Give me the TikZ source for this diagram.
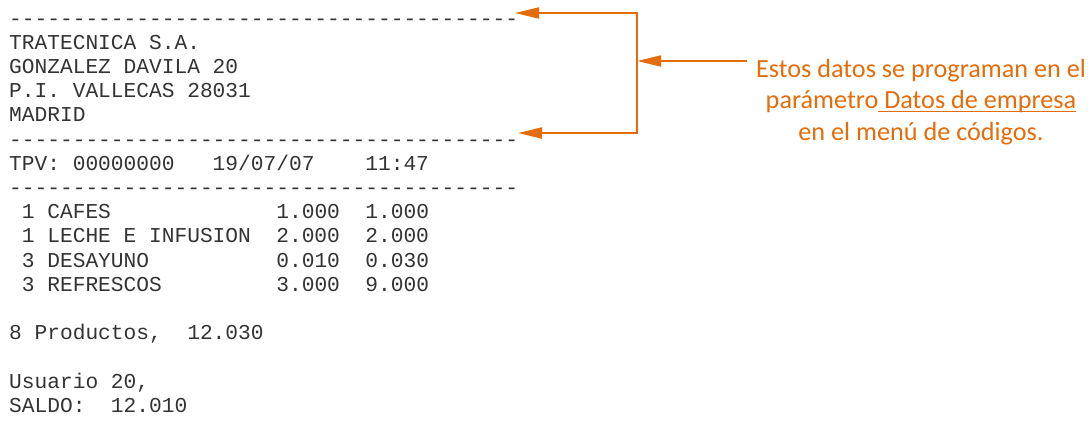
\documentclass[tikz,border=0pt]{standalone}
\usepackage{fontspec}
\setmonofont{Liberation Mono}
\newfontfamily\notefont{Carlito}
\usetikzlibrary{arrows.meta}
\definecolor{noteorange}{RGB}{228,108,10}
\newcommand\dashrow{----------------------------------------}
\newsavebox\ulbox
\newcommand\noteul[1]{\sbox\ulbox{#1}\rlap{\rule[-3.7pt]{\wd\ulbox}{1.4pt}}\usebox\ulbox}
\tikzset{
  ticketline/.style={anchor=base west,inner sep=0pt,text=black!80,
    font=\ttfamily\fontsize{21.2}{24.2}\selectfont},
  noteline/.style={anchor=base,inner sep=0pt,text=noteorange,
    font=\notefont\fontsize{26.2}{31.5}\selectfont},
  pointer/.style={draw=noteorange,line width=2pt},
  >={Triangle[length=24pt,width=11pt]}
}
\begin{document}
\begin{tikzpicture}[x=1pt,y=-1pt]
  \useasboundingbox (0,0) rectangle (1092,429);
  \pgfmathsetmacro\rowh{24.2}
  \foreach \n/\t in {0/\dashrow, 1/{TRATECNICA S.A.}, 2/{GONZALEZ DAVILA 20},
      3/{P.I. VALLECAS 28031}, 4/{MADRID}, 5/\dashrow,
      6/{TPV: 00000000~~~19/07/07~~~~11:47}, 7/\dashrow,
      8/{~1 CAFES~~~~~~~~~~~~~1.000~~1.000},
      9/{~1 LECHE E INFUSION~~2.000~~2.000},
      10/{~3 DESAYUNO~~~~~~~~~~0.010~~0.030},
      11/{~3 REFRESCOS~~~~~~~~~3.000~~9.000},
      13/{8 Productos,~~12.030}, 15/{Usuario 20,}, 16/{SALDO:~~12.010}} {
    \node[ticketline] (row\n) at (9,25+\n*\rowh) {\t};
  }
  \node[noteline] (note1) at (921,77) {Estos datos se programan en el};
  \node[noteline] (note2) at (921,108.5) {parámetro\noteul{ Datos de empresa}};
  \node[noteline] (note3) at (921,140) {en el menú de códigos.};
  \coordinate (topTip) at (515,13);
  \coordinate (botTip) at (518,133);
  \coordinate (brace) at (637,61);
  \coordinate (noteTail) at (747,61);
  \draw[pointer,<->] (topTip) -| (brace) |- (botTip);
  \draw[pointer,->] (noteTail) -- (brace);
\end{tikzpicture}
\end{document}
